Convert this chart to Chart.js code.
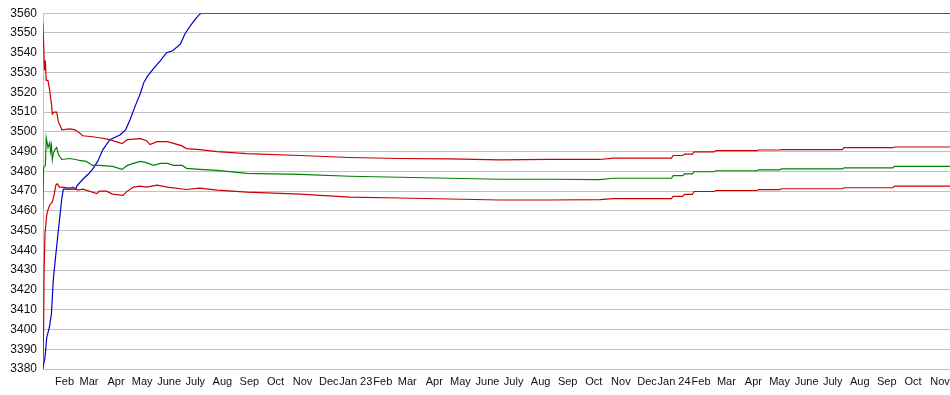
<!DOCTYPE html>
<html>
<head>
<meta charset="utf-8">
<script src="https://cdn.jsdelivr.net/npm/chart.js@4"></script>
<style>
  html, body { margin: 0; padding: 0; background: #fff; overflow: hidden; }
</style>
</head>
<body>
<canvas id="myChart" width="1000" height="395"></canvas>
<script>
// x values are days counted from 1 Jan 2022
const upperDays = [6, 7, 8, 9, 10, 12, 14, 16, 17, 19, 22, 24, 28, 37, 43, 48, 52, 63, 71, 83, 97, 103, 118, 125, 129, 137, 149, 165, 171, 186, 206, 240, 301, 358, 415, 473, 530, 587, 645, 660, 727, 729, 740, 742, 751, 753, 776, 778, 825, 827, 851, 853, 923, 925, 981, 983, 1058];
const upperVals = [3555, 3545, 3531, 3536, 3526, 3526, 3521, 3514, 3509, 3510, 3510, 3505, 3501, 3501.5, 3501, 3499.5, 3498, 3497.5, 3497, 3496, 3494, 3496, 3496.5, 3495.5, 3493.5, 3495, 3495, 3493, 3491.5, 3491, 3490, 3489, 3488, 3487, 3486.5, 3486.3, 3485.8, 3486, 3486, 3486.7, 3486.7, 3488, 3488, 3488.7, 3488.7, 3489.8, 3489.8, 3490.5, 3490.5, 3490.8, 3490.8, 3491, 3491, 3492, 3492, 3492.3, 3492.3];

const midDays = [6, 7, 9, 10, 12, 14, 15, 16, 17, 18, 20, 22, 24, 28, 37, 44, 48, 56, 63, 71, 86, 97, 103, 110, 118, 124, 133, 141, 149, 156, 166, 171, 186, 206, 240, 301, 358, 473, 530, 587, 645, 660, 727, 729, 740, 742, 751, 753, 776, 778, 825, 827, 851, 853, 923, 925, 981, 983, 1058];
const midVals = [3461, 3482, 3483, 3497, 3492, 3494.5, 3490, 3493, 3486, 3489, 3491, 3492, 3488.5, 3486, 3486.5, 3486, 3485.5, 3485, 3483, 3483, 3482.5, 3481, 3483, 3484, 3485, 3484.5, 3483, 3484, 3484, 3483, 3483, 3481.5, 3481, 3480.5, 3479, 3478.5, 3477.5, 3476.5, 3476, 3476, 3475.8, 3476.5, 3476.5, 3477.8, 3477.8, 3478.7, 3478.7, 3479.8, 3479.8, 3480.3, 3480.3, 3480.7, 3480.7, 3481.2, 3481.2, 3481.8, 3481.8, 3482.5, 3482.5];

const lowerDays = [6, 7, 7.5, 8.6, 10.6, 12, 14, 17, 19, 21, 22.7, 25, 28, 37, 41, 46, 52, 68, 71, 79, 86, 98, 103, 110, 118, 125, 137, 149, 171, 186, 206, 240, 301, 358, 415, 473, 530, 587, 645, 660, 727, 729, 740, 742, 751, 753, 776, 778, 825, 827, 851, 853, 923, 925, 981, 983, 1058];
const lowerVals = [3380, 3400, 3428.7, 3448.7, 3458, 3460.5, 3463, 3464.5, 3468, 3473, 3473.7, 3472, 3472, 3471.5, 3472, 3470.5, 3471, 3468.7, 3470, 3470, 3468.5, 3467.8, 3470, 3472, 3472.5, 3472, 3473, 3472, 3470.8, 3471.5, 3470.5, 3469.5, 3468.5, 3467, 3466.5, 3466, 3465.5, 3465.5, 3465.7, 3466.2, 3466.2, 3467.3, 3467.3, 3468.3, 3468.3, 3469.8, 3469.8, 3470.3, 3470.3, 3470.7, 3470.7, 3471.2, 3471.2, 3471.7, 3471.7, 3472.5, 3472.5];

const blueDays = [6, 8.6, 10.6, 13.6, 16, 18, 20, 22.7, 25.8, 27.8, 29.6, 44, 45, 52, 58, 63, 69, 75, 83, 95, 101, 106, 112, 118, 122, 126, 133, 141, 148, 155, 164, 169, 175, 181, 186, 188, 1058];
const blueVals = [3380, 3386, 3396, 3401, 3408, 3424.5, 3433.7, 3445, 3458, 3466, 3471, 3471, 3472.5, 3476, 3478.5, 3481, 3485, 3491, 3496, 3498.5, 3501, 3506, 3513, 3519.5, 3525, 3528, 3532, 3536, 3540, 3541, 3544.5, 3549.5, 3553.5, 3557, 3559.5, 3560, 3560];

const tickLabels = ['Feb', 'Mar', 'Apr', 'May', 'June', 'July', 'Aug', 'Sep', 'Oct', 'Nov', 'Dec',
  'Jan 23', 'Feb', 'Mar', 'Apr', 'May', 'June', 'July', 'Aug', 'Sep', 'Oct', 'Nov', 'Dec',
  'Jan 24', 'Feb', 'Mar', 'Apr', 'May', 'June', 'July', 'Aug', 'Sep', 'Oct', 'Nov'];

// tick at the first day of each month, starting Feb 2022
const tickDays = tickLabels.map((l, i) => (Date.UTC(2022, 1 + i, 1) - Date.UTC(2022, 0, 1)) / 864e5);

const yMin = 3380;
const yMax = 3560;

const toPoints = (days, vals) => days.map((d, i) => ({ x: d, y: vals[i] }));

const ctx = document.getElementById('myChart');
const font = 'Liberation Sans, Arial, sans-serif';

function line(data, color) {
  return {
    data: data,
    borderColor: color,
    borderWidth: 1.2,
    pointRadius: 0,
    tension: 0,
    fill: false
  };
}

const blue = line(toPoints(blueDays, blueVals), '#0000c8');
blue.segment = {
  borderColor: c => (c.p0.parsed.y >= yMax && c.p1.parsed.y >= yMax) ? '#000033' : '#0000c8'
};

new Chart(ctx, {
  type: 'line',
  data: {
    datasets: [
      line(toPoints(upperDays, upperVals), '#c80000'),
      line(toPoints(lowerDays, lowerVals), '#c80000'),
      line(toPoints(midDays, midVals), '#008000'),
      blue
    ]
  },
  options: {
    responsive: false,
    animation: false,
    devicePixelRatio: 1,
    layout: { padding: { top: 9, right: 0, bottom: 0, left: 0 } },
    plugins: { legend: { display: false }, tooltip: { enabled: false } },
    scales: {
      x: {
        type: 'linear',
        min: 6.3,
        max: 1103.8,
        bounds: 'data',
        grid: { display: false, drawTicks: false },
        border: { color: '#c0c0c0' },
        afterBuildTicks: s => { s.ticks = tickDays.map(v => ({ value: v })); },
        afterFit: s => { s.height = 26; },
        ticks: {
          autoSkip: false,
          maxRotation: 0,
          padding: 6,
          color: '#111',
          font: { family: font, size: 11 },
          callback: (v, i) => tickLabels[i]
        }
      },
      y: {
        min: yMin,
        max: yMax,
        grid: { color: '#c0c0c0', drawTicks: false },
        border: { color: '#c0c0c0' },
        afterFit: s => { s.width = 43; },
        ticks: {
          stepSize: 10,
          padding: 6,
          color: '#111',
          font: { family: font, size: 12 },
          callback: v => String(v)
        }
      }
    }
  }
});
</script>
</body>
</html>
